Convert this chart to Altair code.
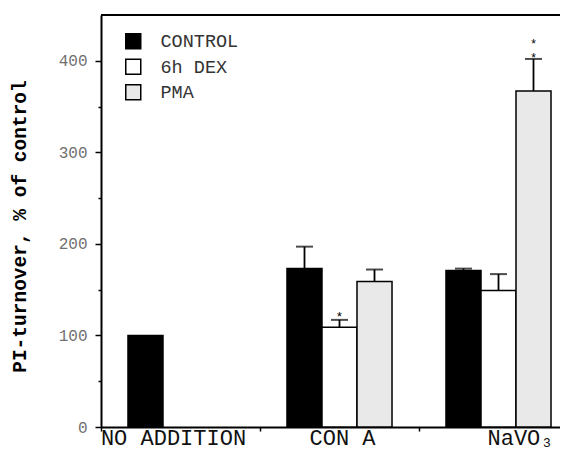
import altair as alt
import pandas as pd

groups = ["NO ADDITION", "CON A", "NaVO₃"]
series = ["CONTROL", "6h DEX", "PMA"]
fills = ["#000000", "#ffffff", "#e9e9e9"]

bar_group = ["NO ADDITION", "CON A", "CON A", "CON A", "NaVO₃", "NaVO₃", "NaVO₃"]
bar_series = ["CONTROL", "CONTROL", "6h DEX", "PMA", "CONTROL", "6h DEX", "PMA"]
bar_value = [100, 173, 109, 159, 171, 149, 367]
err_upper = [None, 197, 117, 172, 173, 167, 402]

star_group = ["CON A", "NaVO₃"]
star_series = ["6h DEX", "PMA"]
star_upper = [117, 402]
star_count = [1, 2]
star_text = ["*", "*\n*"]

y_ticks = [0, 50, 100, 150, 200, 250, 300, 350, 400]

mono = "Liberation Mono"

bars_df = pd.DataFrame({"group": bar_group, "series": bar_series,
                        "value": bar_value, "upper": err_upper})
err_df = bars_df.dropna(subset=["upper"])
star_df = pd.DataFrame({"group": star_group, "series": star_series,
                        "upper": star_upper, "n": star_count, "star": star_text})
top_df = pd.DataFrame({"k": [0]})

x_enc = alt.X(
    "group:N",
    sort=groups,
    title=None,
    scale=alt.Scale(domain=groups, range=[0, 477], paddingInner=0, paddingOuter=0),
    axis=alt.Axis(
        bandPosition=0,
        domainColor="black",
        domainWidth=2,
        tickColor="black",
        tickWidth=1.5,
        tickSize=4,
        labelFont=mono,
        labelFontSize=22,
        labelColor="#111111",
        labelAngle=0,
        labelBaseline="alphabetic",
        labelPadding=13,
        labelOverlap=False,
        labelOffset={
            "condition": [
                {"test": "datum.value == 'NO ADDITION'", "value": -7},
                {"test": "datum.value == 'CON A'", "value": 3},
            ],
            "value": 22,
        },
    ),
)
xo_enc = alt.XOffset(
    "series:N",
    sort=series,
    scale=alt.Scale(domain=series, paddingInner=0, paddingOuter=0.771),
)
y_scale = alt.Scale(domain=[0, 450], nice=False)

bars = alt.Chart(bars_df).mark_bar(stroke="black", strokeWidth=1.5).encode(
    x=x_enc,
    xOffset=xo_enc,
    y=alt.Y(
        "value:Q",
        scale=y_scale,
        title="PI-turnover, % of control",
        axis=alt.Axis(
            values=y_ticks,
            grid=False,
            domainColor="black",
            domainWidth=2,
            tickColor="black",
            tickWidth=1.5,
            tickSize={"condition": {"test": "datum.value % 100 == 0", "value": 6}, "value": 3},
            labelExpr="datum.value % 100 == 0 ? datum.label : ''",
            labelFont=mono,
            labelFontSize=16,
            labelColor="#707070",
            labelPadding=8,
            titleFont=mono,
            titleFontSize=19.5,
            titleFontWeight="bold",
            titleColor="black",
            titleX=-82,
            titleY=211,
            titleAngle=270,
            titleAlign="center",
            titleBaseline="middle",
        ),
    ),
    fill=alt.Fill(
        "series:N",
        scale=alt.Scale(domain=series, range=fills),
        legend=alt.Legend(
            title=None,
            orient="none",
            legendX=23,
            legendY=17,
            symbolType="square",
            symbolSize=225,
            symbolStrokeColor="black",
            symbolStrokeWidth=1.5,
            labelFont=mono,
            labelFontSize=18.5,
            labelColor="#333333",
            labelOffset=18,
            rowPadding=3.5,
            padding=0,
        ),
    ),
)

stems = alt.Chart(err_df).mark_rule(color="black", strokeWidth=1.8).encode(
    x=alt.X("group:N", sort=groups),
    xOffset=alt.XOffset("series:N", sort=series),
    y=alt.Y("value:Q", scale=y_scale),
    y2="upper:Q",
)

caps = alt.Chart(err_df).mark_tick(color="black", size=17, thickness=2, orient="horizontal").encode(
    x=alt.X("group:N", sort=groups),
    xOffset=alt.XOffset("series:N", sort=series),
    y=alt.Y("upper:Q", scale=y_scale),
)

star1 = alt.Chart(star_df).transform_filter("datum.n == 1").mark_text(
    font=mono, fontSize=13, baseline="bottom", dy=4, color="black"
).encode(
    x=alt.X("group:N", sort=groups),
    xOffset=alt.XOffset("series:N", sort=series),
    y=alt.Y("upper:Q", scale=y_scale),
    text="star:N",
)

star2 = alt.Chart(star_df).transform_filter("datum.n >= 2").mark_text(
    font=mono, fontSize=12, baseline="bottom", lineBreak="\n", lineHeight=14, dy=-8, color="black"
).encode(
    x=alt.X("group:N", sort=groups),
    xOffset=alt.XOffset("series:N", sort=series),
    y=alt.Y("upper:Q", scale=y_scale),
    text="star:N",
)

top = alt.Chart(top_df).mark_rule(color="black", strokeWidth=2).encode(y=alt.value(0))

chart = alt.layer(bars, stems, caps, star1, star2, top).properties(
    width=459,
    height=412,
    padding={"left": 93, "top": 7, "right": 0, "bottom": 23},
    autosize=alt.AutoSizeParams(type="none"),
    background="white",
).configure_view(strokeWidth=0)

chart.save("out.html", embed_options={"renderer": "svg", "actions": False})
